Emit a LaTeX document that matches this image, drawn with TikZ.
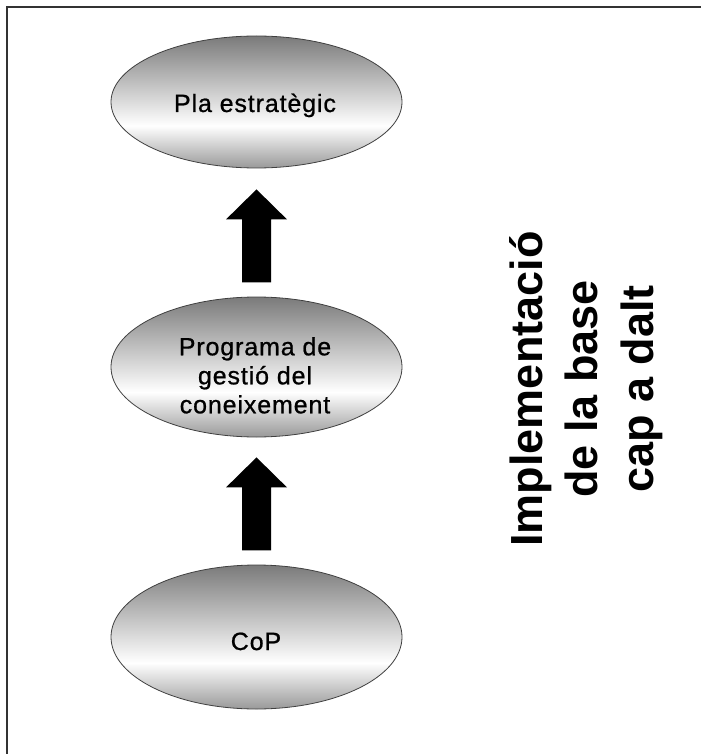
\documentclass[tikz,border=0pt]{standalone}
\usepackage{fontspec}
\setmainfont{Liberation Sans}
\newfontfamily\ellfont[LetterSpace=3.5,FakeBold=0.8]{Liberation Sans}
\newfontfamily\sidefont{Liberation Sans}
\usetikzlibrary{shapes.geometric,calc}

% grey-white-grey vertical shading (0bp = bottom, 100bp = top)
\pgfdeclareverticalshading{ellshade}{100bp}{%
  color(0bp)=(black!40); color(25bp)=(black!40);
  color(41bp)=(white);
  color(75bp)=(black!52); color(100bp)=(black!52)}

\tikzset{
  ell/.style={ellipse, shading=ellshade, draw=black!75, line width=0.8pt,
              minimum width=291pt, inner sep=0pt},
  elltext/.style={inner sep=0pt, font=\ellfont\fontsize{25}{29}\selectfont,
                  align=center},
  sidetext/.style={inner sep=0pt, rotate=90, anchor=base,
                   font=\sidefont\bfseries\fontsize{45}{54}\selectfont},
  blockarrow/.style={fill=black},
  frame/.style={draw=black!80, line width=2pt}
}

\begin{document}
\begin{tikzpicture}[x=1pt,y=-1pt]
  \useasboundingbox (0,0) rectangle (701,754);

  % page frame
  \draw[frame] (7,754) -- (7,7) -- (701,7);

  % levels
  \node[ell, minimum height=132pt] (plan) at (256.5,102) {};
  \node[ell, minimum height=140pt] (prog) at (256.5,367) {};
  \node[ell, minimum height=144pt] (cop)  at (256.5,637) {};

  \node[elltext, anchor=base] (plan-t) at (255,112) {Pla estratègic};
  \node[elltext, anchor=north] (prog-t) at (255,337)
       {Programa de\\gestió del\\coneixement};
  \node[elltext, anchor=base] (cop-t) at (256,650) {CoP};

  % upward block arrows between levels
  \fill[blockarrow] ($(plan.south)+(0,21)$) -- ++(30.5,30) -- ++(-16,0)
       -- ++(0,63) -- ++(-29,0) -- ++(0,-63) -- ++(-16,0) -- cycle;
  \fill[blockarrow] ($(prog.south)+(0,20)$) -- ++(30.5,30) -- ++(-16,0)
       -- ++(0,63) -- ++(-29,0) -- ++(0,-63) -- ++(-16,0) -- cycle;

  % side caption
  \node[sidetext] (cap1) at (542,389) {Implementació};
  \node[sidetext] (cap2) at (597,389) {de la base};
  \node[sidetext] (cap3) at (653,389) {cap a dalt};
\end{tikzpicture}
\end{document}
